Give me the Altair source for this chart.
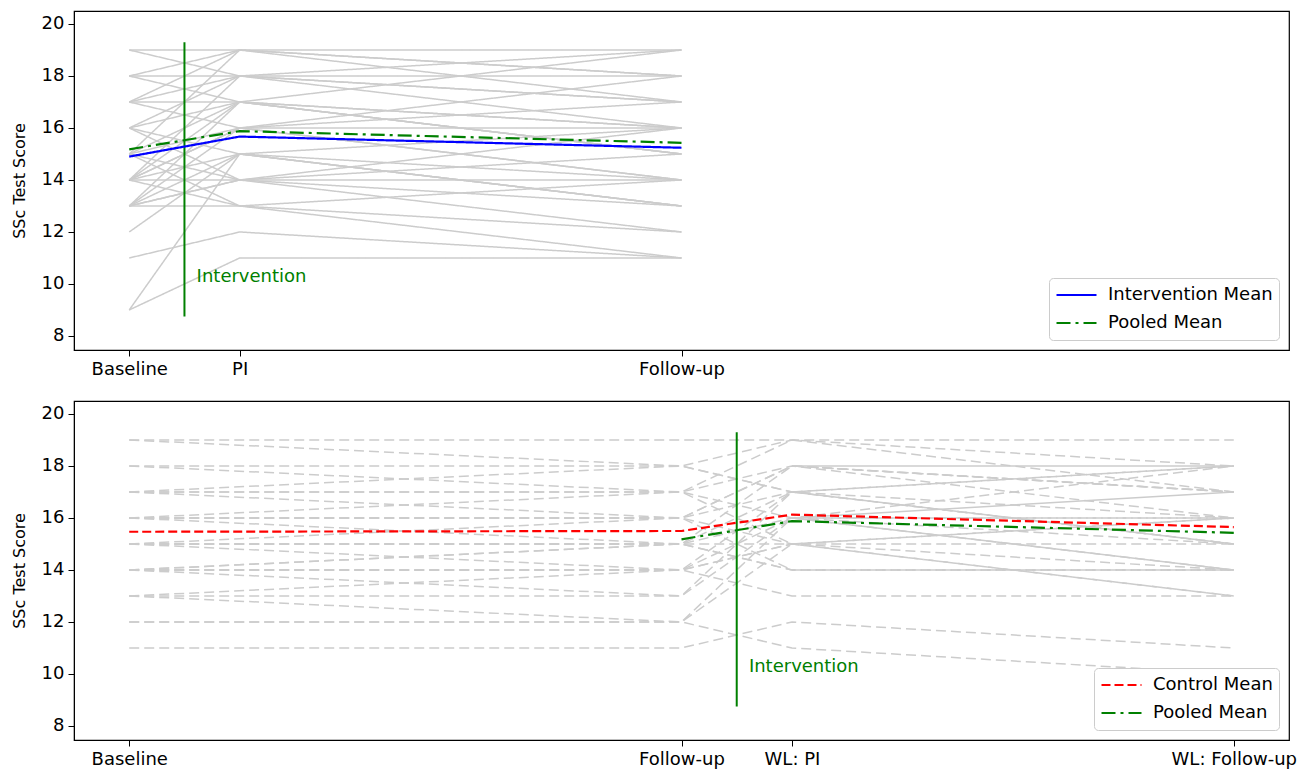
import altair as alt
import pandas as pd

FONT = "DejaVu Sans"
GRAY = "#cccccc"
GREEN = "#008000"

# ---------------- data ----------------
top_x = [0, 1, 5]
top_labels = ["Baseline", "PI", "Follow-up"]
bot_x = [0, 5, 6, 10]
bot_labels = ["Baseline", "Follow-up", "WL: PI", "WL: Follow-up"]

# intervention group individual trajectories (Baseline, PI, Follow-up)
int_baseline = [19, 19, 18, 18, 17, 17, 17, 16, 16, 16, 15, 15, 15, 14, 14, 14, 14, 14,
                13, 13, 13, 13, 12, 11, 9, 9, 17, 15, 14, 13, 16, 18, 15, 14, 13]
int_pi = [19, 18, 19, 17, 19, 18, 17, 18, 17, 15, 17, 16, 14, 16, 15, 17, 13, 16,
          15, 14, 16, 13, 15, 12, 11, 15, 16, 19, 14, 17, 14, 18, 13, 18, 14]
int_fu = [19, 18, 18, 16, 18, 17, 15, 17, 19, 16, 16, 14, 15, 17, 13, 15, 14, 16,
          13, 16, 14, 12, 14, 11, 11, 13, 18, 17, 13, 15, 14, 19, 11, 16, 12]

# control / wait-list group (Baseline, Follow-up, WL: PI, WL: Follow-up)
ctrl_baseline = [19, 19, 18, 18, 17, 17, 17, 16, 16, 16, 16, 15, 15, 15, 15, 14, 14, 14,
                 14, 14, 13, 13, 12, 11, 16, 15, 17, 14, 13, 12]
ctrl_fu = [19, 18, 18, 17, 17, 16, 17, 16, 15, 17, 16, 15, 14, 16, 15, 15, 14, 13,
           15, 14, 14, 13, 12, 11, 16, 15, 18, 14, 12, 12]
ctrl_wlpi = [19, 19, 17, 19, 18, 18, 15, 17, 14, 16, 18, 16, 17, 14, 15, 18, 13, 16,
             14, 16, 15, 17, 11, 12, 15, 17, 17, 15, 16, 15]
ctrl_wlfu = [19, 18, 18, 17, 16, 17, 16, 15, 14, 18, 17, 16, 15, 14, 13, 17, 13, 15,
             14, 16, 14, 15, 10, 11, 16, 18, 16, 15, 14, 13]

# solid segments in the wait-list phase (WL: PI, WL: Follow-up)
wl_solid_pi = [18, 16, 16]
wl_solid_fu = [18, 17, 14]

# means
int_mean = [14.9, 15.67, 15.24]
pooled_mean = [15.18, 15.88, 15.43]
ctrl_mean = [15.47, 15.5, 16.13, 15.65]

# ---------------- build tables ----------------
def long_table(xs, columns):
    rows = []
    for i, vals in enumerate(zip(*columns)):
        for x, v in zip(xs, vals):
            rows.append({"id": i, "x": x, "y": v})
    return pd.DataFrame(rows)

top_gray = long_table(top_x, [int_baseline, int_pi, int_fu])
bot_gray = long_table(bot_x, [ctrl_baseline, ctrl_fu, ctrl_wlpi, ctrl_wlfu])
bot_solid = long_table([6, 10], [wl_solid_pi, wl_solid_fu])

top_means = pd.DataFrame(
    [{"series": "Intervention Mean", "x": x, "y": y} for x, y in zip(top_x, int_mean)]
    + [{"series": "Pooled Mean", "x": x, "y": y} for x, y in zip(top_x, pooled_mean)]
)
bot_means = pd.DataFrame(
    [{"series": "Control Mean", "x": x, "y": y} for x, y in zip(bot_x, ctrl_mean)]
    + [{"series": "Pooled Mean", "x": x, "y": y} for x, y in zip([5, 6, 10], pooled_mean)]
)

W, H = 1215, 339
XDOM = [-0.5, 10.5]
YDOM = [7.46, 20.5]


def label_expr(xs, labels):
    expr = "''"
    for v, l in reversed(list(zip(xs, labels))):
        expr = f"datum.value == {v} ? '{l}' : ({expr})"
    return expr


def x_enc(xs, labels):
    return alt.X("x:Q", scale=alt.Scale(domain=XDOM, nice=False, zero=False),
                 axis=alt.Axis(values=xs, labelExpr=label_expr(xs, labels), title=None))


y_enc = alt.Y("y:Q", scale=alt.Scale(domain=YDOM, nice=False, zero=False),
              axis=alt.Axis(values=[8, 10, 12, 14, 16, 18, 20], title="SSc Test Score"))


def panel(gray_df, dashed_gray, solid_df, means_df, domain, colors, dashes, vline_x, xs, labels):
    xe = x_enc(xs, labels)
    layers = []
    g = alt.Chart(gray_df).mark_line(color=GRAY, strokeWidth=1.5,
                                     strokeDash=[10, 5] if dashed_gray else [1, 0]).encode(
        x=xe, y=y_enc, detail="id:N")
    layers.append(g)
    if solid_df is not None:
        layers.append(alt.Chart(solid_df).mark_line(color=GRAY, strokeWidth=1.5).encode(
            x=xe, y=y_enc, detail="id:N"))
    vdf = pd.DataFrame({"x": [vline_x], "y": [8.75], "y2": [19.3]})
    layers.append(alt.Chart(vdf).mark_rule(color=GREEN, strokeWidth=2).encode(
        x=xe, y=y_enc, y2="y2:Q"))
    tdf = pd.DataFrame({"x": [vline_x + 0.11], "y": [10.27], "t": ["Intervention"]})
    layers.append(alt.Chart(tdf).mark_text(align="left", baseline="middle", color=GREEN,
                                           fontSize=18, font=FONT).encode(
        x=xe, y=y_enc, text="t:N"))
    legend = alt.Legend(title=None, orient="bottom-right", offset=10,
                        symbolType="stroke", symbolSize=1600, symbolStrokeWidth=2.2,
                        labelFontSize=18, labelFont=FONT, labelColor="black", labelLimit=400,
                        fillColor="white", strokeColor="#cccccc", cornerRadius=4,
                        padding=6, rowPadding=6, clipHeight=22, labelOffset=10)
    layers.append(alt.Chart(means_df).mark_line(strokeWidth=2.2).encode(
        x=xe, y=y_enc,
        color=alt.Color("series:N", scale=alt.Scale(domain=domain, range=colors), legend=legend),
        strokeDash=alt.StrokeDash("series:N", scale=alt.Scale(domain=domain, range=dashes),
                                  legend=legend),
    ))
    return alt.layer(*layers).properties(width=W, height=H)


top = panel(top_gray, False, None, top_means,
            ["Intervention Mean", "Pooled Mean"], ["#0000ff", GREEN],
            [[1, 0], [14, 5, 3, 5]], 0.5, top_x, top_labels)
bottom = panel(bot_gray, True, bot_solid, bot_means,
               ["Control Mean", "Pooled Mean"], ["#ff0000", GREEN],
               [[9, 4], [14, 5, 3, 5]], 5.5, bot_x, bot_labels)

chart = alt.vconcat(top, bottom, spacing=21).resolve_scale(
    color="independent", strokeDash="independent"
).resolve_legend(color="independent", strokeDash="independent").properties(
    padding={"left": 2, "top": 2, "right": 2, "bottom": 2}
).configure_axis(
    labelFont=FONT, titleFont=FONT, labelFontSize=18, titleFontSize=16,
    labelColor="black", titleColor="black", tickColor="black", domainColor="black",
    tickSize=6, labelPadding=4, grid=False, titleFontWeight="normal", titlePadding=14
).configure_view(stroke="black", strokeWidth=1.2)

chart.save("out.html", embed_options={"renderer": "svg", "actions": False})
